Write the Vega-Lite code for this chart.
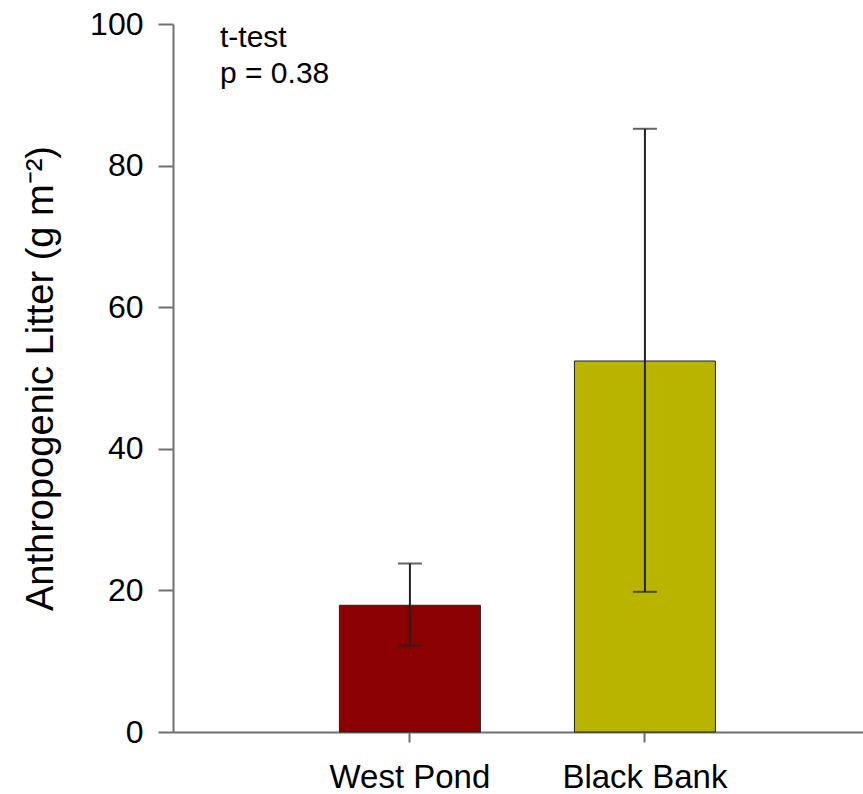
{
  "$schema": "https://vega.github.io/schema/vega-lite/v6.json",
  "width": 690,
  "height": 708,
  "autosize": "none",
  "padding": {"left": 173, "top": 24, "right": 0, "bottom": 62},
  "background": "white",
  "config": {"view": {"stroke": null}, "font": "Liberation Sans"},
  "title": {
    "text": ["t-test", "p = 0.38"],
    "anchor": "start",
    "frame": "group",
    "orient": "top",
    "baseline": "top",
    "offset": -81,
    "dx": 47,
    "fontSize": 30,
    "fontWeight": "normal",
    "font": "Liberation Sans",
    "color": "black",
    "lineHeight": 36
  },
  "data": {
    "values": [
      {"site": "West Pond", "mean": 17.9, "lo": 12.2, "hi": 23.8},
      {"site": "Black Bank", "mean": 52.4, "lo": 19.8, "hi": 85.2}
    ]
  },
  "encoding": {
    "x": {
      "field": "site",
      "type": "nominal",
      "sort": ["West Pond", "Black Bank"],
      "scale": {"paddingInner": 0.4, "paddingOuter": 0.668, "align": 0.53},
      "axis": {
        "title": null,
        "labelAngle": 0,
        "labelFontSize": 33,
        "labelColor": "black",
        "labelPadding": 19,
        "domainColor": "#707070",
        "domainWidth": 2,
        "tickColor": "#707070",
        "tickWidth": 2,
        "tickSize": 10
      }
    }
  },
  "layer": [
    {
      "mark": {"type": "bar", "stroke": "#222222", "strokeWidth": 1},
      "encoding": {
        "y": {
          "field": "mean",
          "type": "quantitative",
          "scale": {"domain": [0, 100], "nice": false},
          "axis": {
            "title": "Anthropogenic Litter (g m⁻²)",
            "titleFontSize": 38,
            "titleFontWeight": "normal",
            "titleColor": "black",
            "titlePadding": 29,
            "values": [0, 20, 40, 60, 80, 100],
            "labelFontSize": 32,
            "labelColor": "black",
            "labelPadding": 15,
            "tickSize": 15,
            "tickColor": "#707070",
            "tickWidth": 2,
            "domainColor": "#707070",
            "domainWidth": 2,
            "grid": false
          }
        },
        "color": {
          "field": "site",
          "type": "nominal",
          "scale": {"domain": ["West Pond", "Black Bank"], "range": ["#8B0000", "#B8B400"]},
          "legend": null
        }
      }
    },
    {
      "mark": {"type": "rule", "color": "#222222", "strokeWidth": 2},
      "encoding": {
        "y": {"field": "lo", "type": "quantitative"},
        "y2": {"field": "hi"}
      }
    },
    {
      "mark": {"type": "tick", "color": "#222222", "thickness": 2, "size": 24},
      "encoding": {"y": {"field": "lo", "type": "quantitative"}}
    },
    {
      "mark": {"type": "tick", "color": "#222222", "thickness": 2, "size": 24},
      "encoding": {"y": {"field": "hi", "type": "quantitative"}}
    }
  ]
}
